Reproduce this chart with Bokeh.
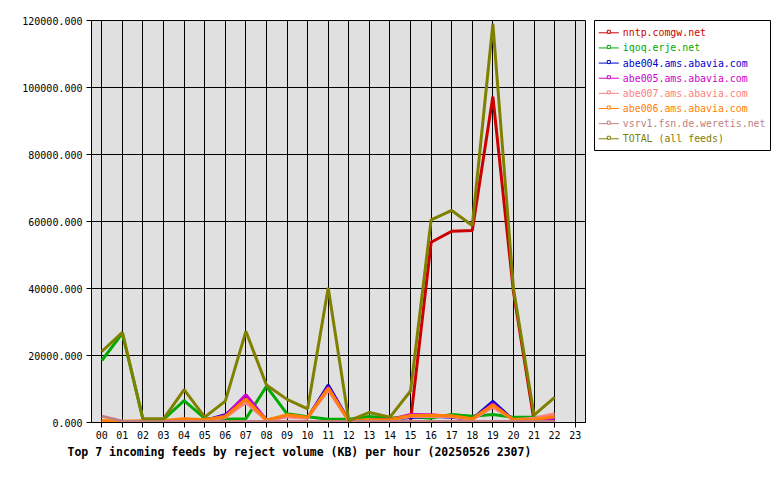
from bokeh.plotting import figure
from bokeh.models import Range1d, FixedTicker, PrintfTickFormatter, Title
from bokeh.layouts import row
from bokeh.core.properties import value
from bokeh.embed import file_html
from bokeh.resources import INLINE

# ---- data ----
hours = list(range(23))
hour_labels = ["%02d" % h for h in range(24)]
y_ticks = [0, 20000, 40000, 60000, 80000, 100000, 120000]

series_names = ["nntp.comgw.net", "iqoq.erje.net", "abe004.ams.abavia.com",
                "abe005.ams.abavia.com", "abe007.ams.abavia.com",
                "abe006.ams.abavia.com", "vsrv1.fsn.de.weretis.net",
                "TOTAL (all feeds)"]
series_colors = ["#cc0000", "#00aa00", "#0000cc", "#cc00cc", "#ff8080",
                 "#ff8000", "#c08080", "#808000"]

nntp = [300, 300, 300, 300, 300, 300, 300, 300, 300, 300, 300, 300, 300, 300, 300,
        400, 53800, 57100, 57300, 97300, 39000, 500, 300]
iqoq = [18500, 26600, 900, 900, 6500, 1200, 1000, 1100, 10800, 2600, 1700, 1000,
        1000, 1800, 1300, 1800, 1300, 2400, 1900, 2400, 1600, 1600, 1500]
abe004 = [300, 300, 300, 300, 700, 600, 2300, 7600, 700, 1900, 1400, 11200,
          500, 700, 1000, 1500, 1900, 1600, 1000, 6300, 700, 800, 1200]
abe005 = [300, 300, 300, 300, 700, 600, 2000, 8300, 700, 1900, 1400, 10600,
          500, 700, 800, 2400, 2300, 1800, 1000, 5600, 700, 800, 1300]
abe007 = [300, 300, 300, 300, 700, 600, 1500, 6000, 600, 1700, 1300, 9700,
          400, 600, 700, 1800, 1900, 1700, 900, 4600, 900, 1300, 2600]
abe006 = [600, 400, 500, 600, 1100, 800, 1800, 7000, 700, 2300, 1600, 10300,
          500, 800, 900, 2100, 2200, 2000, 1100, 5200, 800, 900, 1700]
vsrv1 = [1900, 400, 300, 300, 300, 300, 300, 300, 300, 300, 300, 300,
         300, 300, 300, 300, 300, 300, 300, 300, 300, 300, 300]
total = [21200, 26900, 1100, 1100, 9800, 1600, 6400, 27200, 11200, 6900, 4100, 40200,
         500, 3000, 1600, 9400, 60500, 63300, 58800, 119000, 40000, 2200, 7500]

series_values = [nntp, iqoq, abe004, abe005, abe007, abe006, vsrv1, total]
title_text = "Top 7 incoming feeds by reject volume (KB) per hour (20250526 2307)"

MONO = "DejaVu Sans Mono"

# ---- main chart ----
p = figure(output_backend="svg", toolbar_location=None,
           frame_width=494, frame_height=402,
           min_border_left=91, min_border_right=5,
           min_border_top=20, min_border_bottom=50,
           x_range=Range1d(-0.5, 23.5), y_range=Range1d(0, 120000))
p.background_fill_color = "#e0e0e0"
p.border_fill_color = "white"
p.outline_line_color = "black"
p.outline_line_width = 1

for vals, col in zip(series_values, series_colors):
    p.line(hours, vals, line_color=col, line_width=3)

xt = FixedTicker(ticks=list(range(24)))
yt = FixedTicker(ticks=y_ticks)
p.xaxis.ticker = xt
p.yaxis.ticker = yt
p.xgrid.ticker = xt
p.ygrid.ticker = yt
for g in (p.xgrid, p.ygrid):
    g.grid_line_color = "black"
    g.grid_line_width = 1
    g.grid_line_alpha = 1

p.xaxis.major_label_overrides = {i: lab for i, lab in enumerate(hour_labels)}
p.yaxis.formatter = PrintfTickFormatter(format="%.3f")
for ax in (p.xaxis, p.yaxis):
    ax.axis_line_color = "black"
    ax.major_tick_line_color = "black"
    ax.major_tick_out = 5
    ax.major_tick_in = 0
    ax.minor_tick_line_color = None
    ax.major_label_text_font = MONO
    ax.major_label_text_font_size = "10px"
    ax.major_label_text_color = "black"
p.xaxis.major_label_standoff = 3
p.yaxis.major_label_standoff = 4

t = Title(text=title_text, align="left", offset=-24,
          text_font=MONO, text_font_size="11.5px", text_font_style="bold",
          text_color="black", standoff=2)
p.add_layout(t, "below")

# ---- legend panel ----
lf = figure(output_backend="svg", toolbar_location=None,
            frame_width=176, frame_height=130,
            min_border_left=4, min_border_right=2,
            min_border_top=20, min_border_bottom=2,
            x_range=Range1d(0, 176), y_range=Range1d(130, 0))
lf.axis.visible = False
lf.grid.visible = False
lf.background_fill_color = "white"
lf.border_fill_color = "white"
lf.outline_line_color = "black"
lf.outline_line_width = 1

row_h = 15.14
for i, (name, col) in enumerate(zip(series_names, series_colors)):
    yy = 12.3 + row_h * i
    lf.line([4.3, 24.3], [yy, yy], line_color=col, line_width=1)
    lf.scatter([14.3], [yy - 1], marker="square", size=3, line_color=col,
               fill_color="white", line_width=1)
    lf.text([28.3], [yy], text=[name], text_color=col, text_font=value(MONO),
            text_font_size="9.9px", text_baseline="middle", text_align="left")

layout = row(p, lf, spacing=0)

with open("out.html", "w") as f:
    f.write(file_html(layout, INLINE))
